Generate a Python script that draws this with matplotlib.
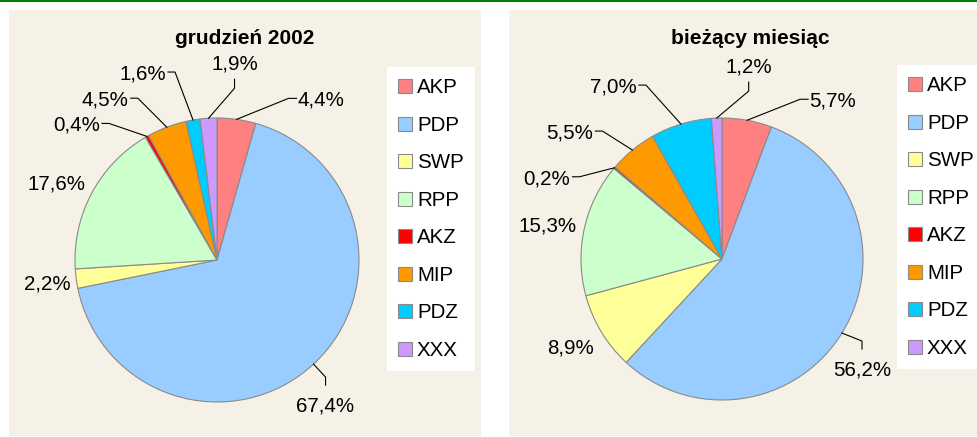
import numpy as np
import matplotlib
matplotlib.use('Agg')
import matplotlib.pyplot as plt
from matplotlib.patches import Rectangle

plt.rcParams['font.family'] = ['Liberation Sans', 'DejaVu Sans']

W, H = 978, 437

parties = ['AKP', 'PDP', 'SWP', 'RPP', 'AKZ', 'MIP', 'PDZ', 'XXX']
dec_2002 = [4.4, 67.4, 2.2, 17.6, 0.4, 4.5, 1.6, 1.9]
current = [5.7, 56.2, 8.9, 15.3, 0.2, 5.5, 7.0, 1.2]
titles = ['grudzień 2002', 'bieżący miesiąc']

colors = ['#FF8080', '#99CCFF', '#FFFF99', '#CCFFCC',
          '#FF0000', '#FF9900', '#00CCFF', '#CC99FF']
beige = '#F5F1E6'

# where each percent label sits: pixel offset from the wedge edge (y down)
# and which side of the leader the text is on
left_place = [(61, -21, 'r'), (12, 21, 'b'), (-6, 3, ''), (-6, -11, ''),
              (-47, -13, 'l'), (-38, -29, 'l'), (-27, -48, 'l'), (26, -39, 't')]
right_place = [(62, -21, 'r'), (20, 16, 'b'), (-7, 14, ''), (-8, -5, ''),
               (-44, 9, 'l'), (-39, -19, 'l'), (-44, -39, 'l'), (32, -36, 't')]

fig = plt.figure(figsize=(W / 100, H / 100), dpi=100)
fig.patch.set_facecolor('white')
ax = fig.add_axes([0, 0, 1, 1])

LBL = 14.8


def draw_pie(values, cx, cy, r, place):
    Y = H - cy
    wedges, _ = ax.pie(values, colors=colors, startangle=90, counterclock=False,
                       center=(cx, Y), radius=r,
                       wedgeprops=dict(edgecolor='#8a8a8a', linewidth=0.8))
    cum = np.cumsum([0] + list(values))
    total = cum[-1]
    for i, v in enumerate(values):
        mid = (cum[i] + v / 2) / total
        th = np.radians(90 - 360 * mid)
        ex, ey = cx + r * np.cos(th), Y + r * np.sin(th)
        dx, dy, side = place[i]
        tx, ty = ex + dx, ey - dy
        txt = f'{v:.1f}%'.replace('.', ',')
        if side == 'r':
            ax.plot([ex, tx - 9, tx - 1], [ey, ty, ty], color='black', lw=0.8)
            ax.text(tx, ty - 7.5, txt, ha='left', va='baseline', fontsize=LBL)
        elif side == 'l':
            ax.plot([ex, tx + 9, tx + 2], [ey, ty, ty], color='black', lw=0.8)
            ax.text(tx, ty - 7.5, txt, ha='right', va='baseline', fontsize=LBL)
        elif side == 't':
            ax.plot([ex, tx, tx], [ey, ty - 9, ty], color='black', lw=0.8)
            ax.text(tx, ty + 10, txt, ha='center', va='baseline', fontsize=LBL)
        elif side == 'b':
            ax.plot([ex, tx, tx], [ey, ty + 8, ty], color='black', lw=0.8)
            ax.text(tx, ty - 26, txt, ha='center', va='baseline', fontsize=LBL)
        else:
            ax.text(tx, ty - 7.5, txt, ha='right', va='baseline', fontsize=LBL)
    return wedges


# panel backgrounds and top rule
ax.add_patch(Rectangle((9, H - 436), 472, 426, facecolor=beige, edgecolor='none', zorder=0))
ax.add_patch(Rectangle((509, H - 436), 475, 426, facecolor=beige, edgecolor='none', zorder=0))
ax.add_patch(Rectangle((0, H - 1.8), W, 1.8, facecolor='#008000', edgecolor='none', zorder=0))

w_left = draw_pie(dec_2002, 217, 260, 142, left_place)
w_right = draw_pie(current, 722, 259, 141, right_place)

ax.text(245, H - 44, titles[0], ha='center', va='baseline', fontsize=15, fontweight='bold')
ax.text(750, H - 44, titles[1], ha='center', va='baseline', fontsize=15, fontweight='bold')

for wedges, (lx, ly) in [(w_left, (387, 67)), (w_right, (897, 65))]:
    leg = fig.legend(wedges, parties, loc='upper left',
                     bbox_to_anchor=(lx / W, 1 - ly / H), bbox_transform=fig.transFigure,
                     fontsize=LBL, frameon=True, fancybox=False, framealpha=1,
                     facecolor='white', edgecolor='none', borderpad=0.55,
                     borderaxespad=0, handlelength=0.66, handleheight=0.66,
                     handletextpad=0.25, labelspacing=0.9)

ax.set_xlim(0, W)
ax.set_ylim(0, H)
ax.set_aspect('auto')
ax.set_position([0, 0, 1, 1])
ax.axis('off')

fig.savefig('out.png', dpi=100, facecolor='white')
